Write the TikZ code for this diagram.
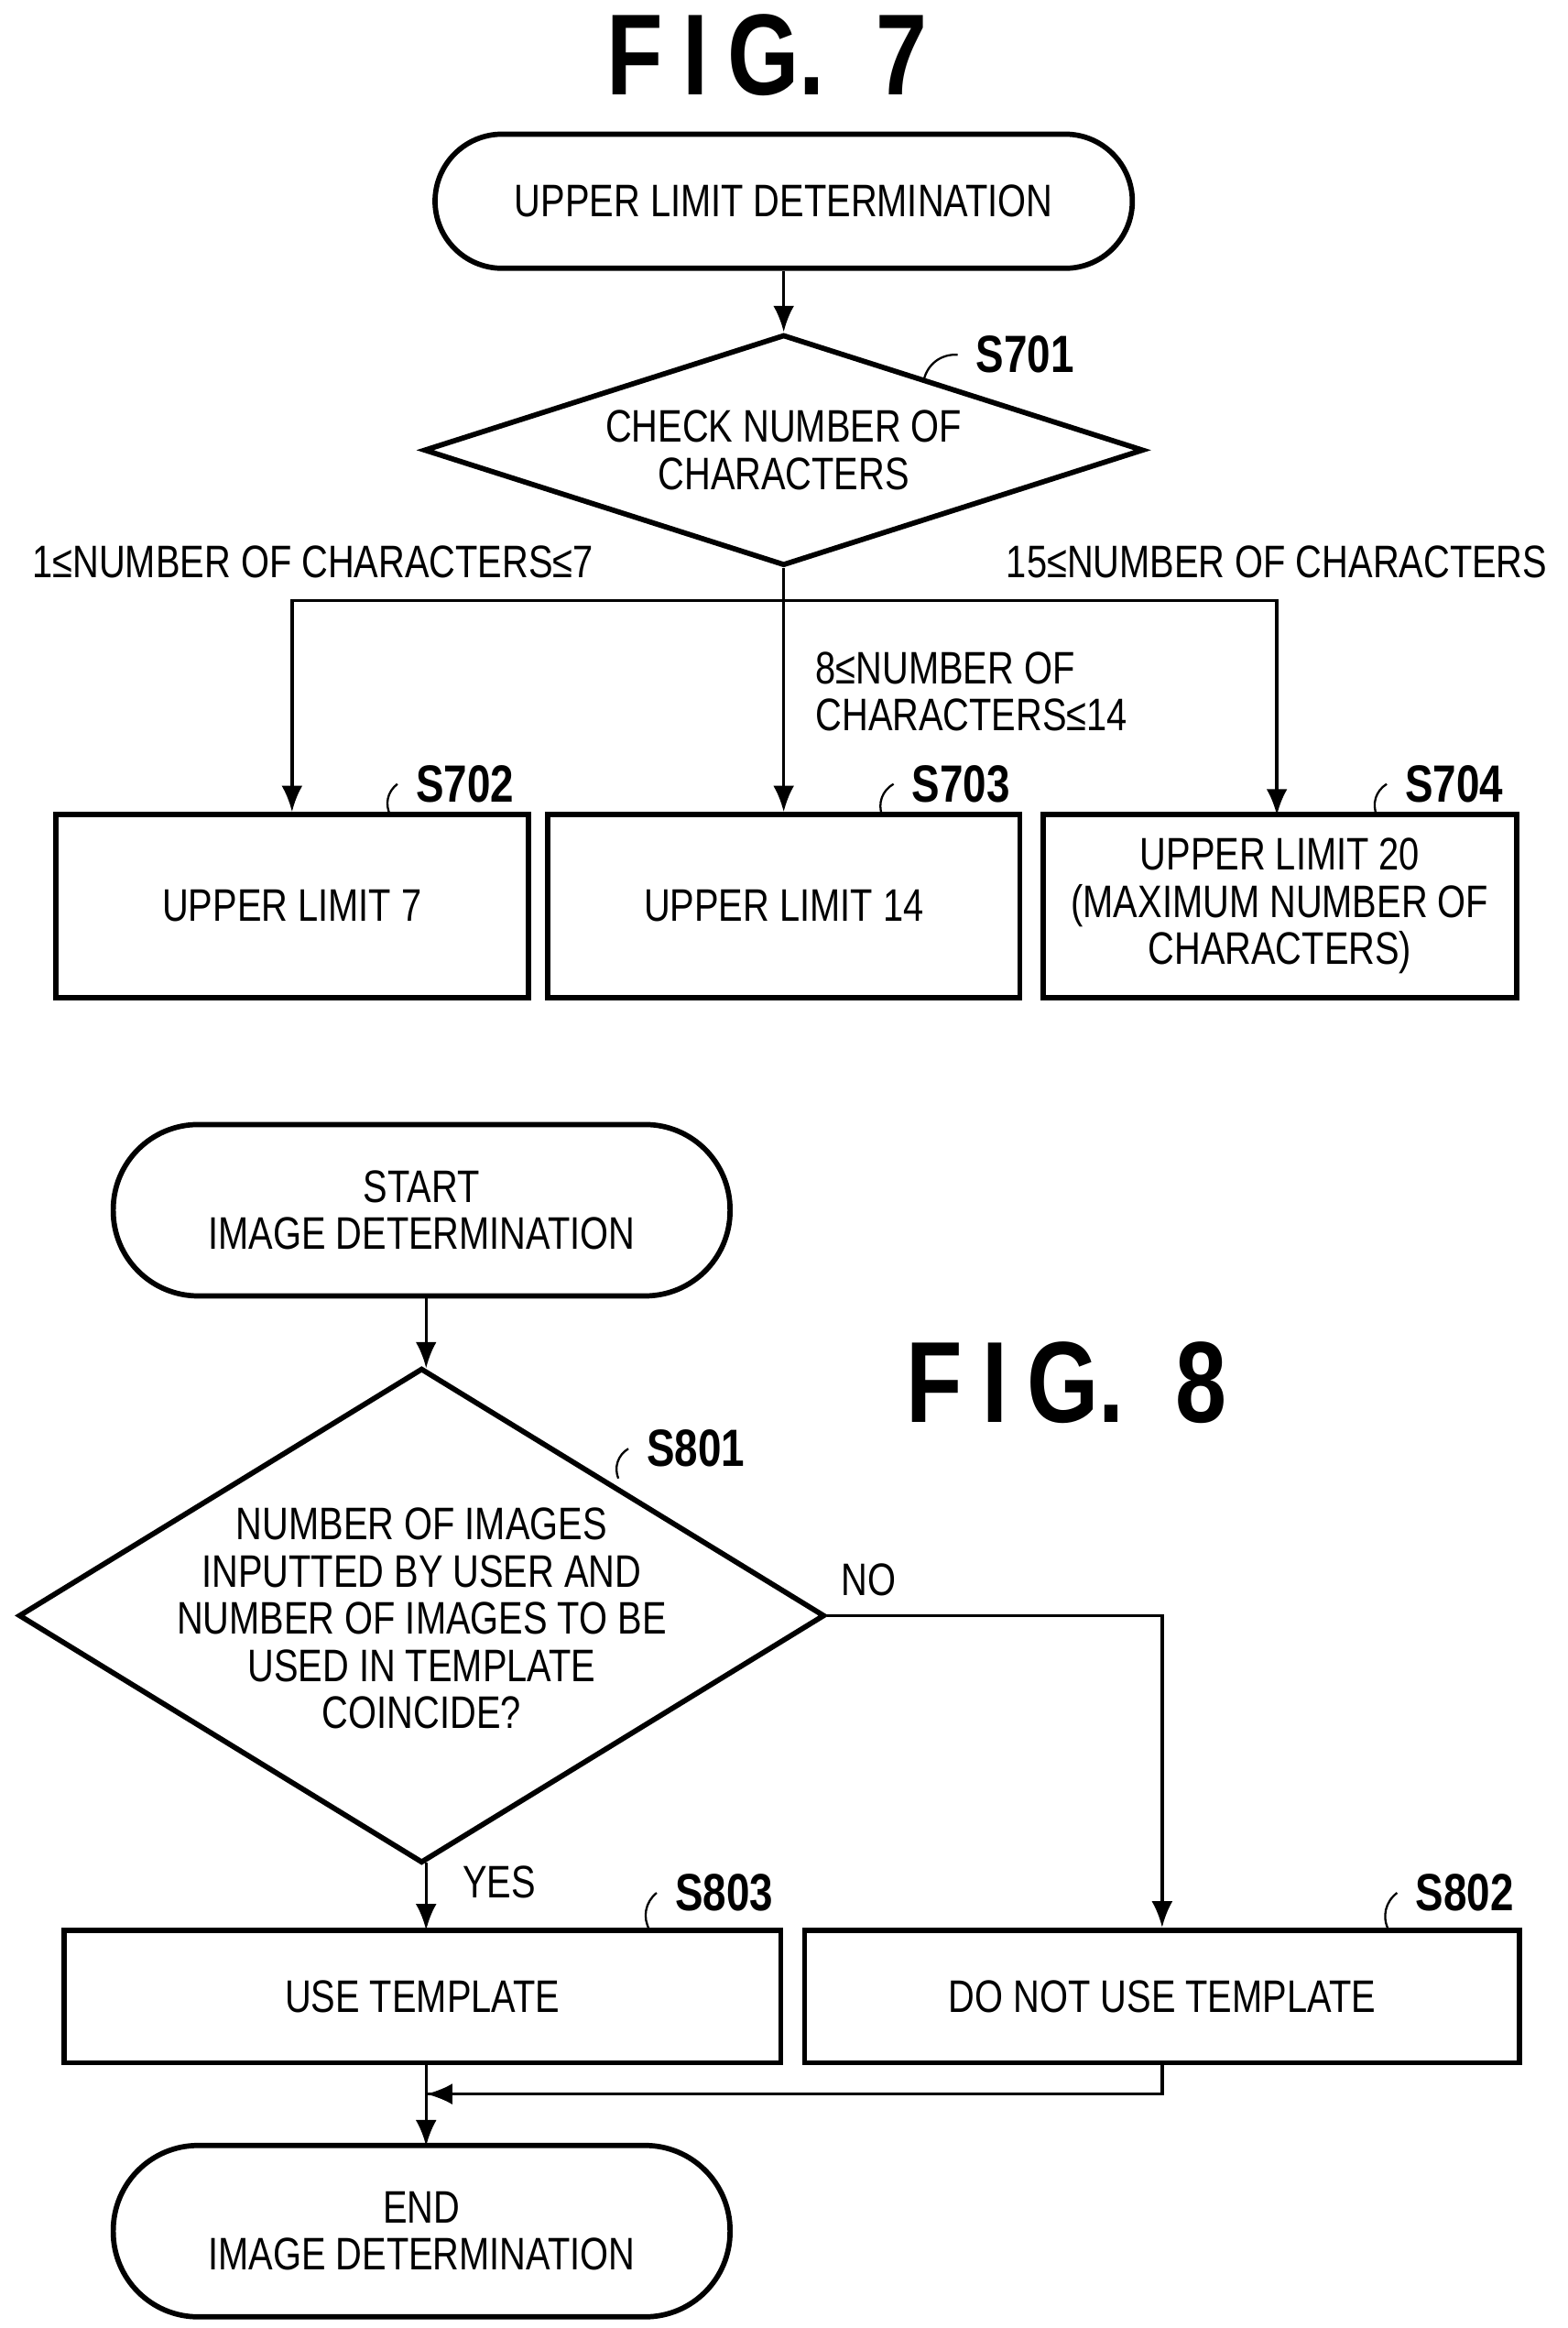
\documentclass[tikz,border=0pt]{standalone}
\usepackage{fontspec}
\setmainfont{Liberation Sans}[FakeStretch=0.8]
\usetikzlibrary{arrows.meta,positioning,shapes.geometric}
\newlength{\unit}\setlength{\unit}{0.01cm}
\tikzset{
  term/.style={draw,rounded corners=45\unit,minimum width=468\unit,minimum height=90\unit,align=center,line width=1pt},
  proc/.style={draw,minimum height=123\unit,align=center,line width=1pt},
  steplabel/.style={font=\bfseries\fontsize{10}{12}\selectfont},
  flow/.style={-{Latex[length=5pt,width=4pt]},line width=0.6pt},
  txt/.style={font=\fontsize{8.7}{9}\selectfont}
}
\begin{document}
\begin{tikzpicture}[x=0.01cm,y=-0.01cm,txt]
\useasboundingbox (0,0) rectangle (1052,1562);
% figure 7
\node[font=\bfseries\fontsize{22}{24}\selectfont] (fig7) at (515,37) {F\,I\,G.\ \ 7};
\node[term] (upper) at (526,135) {UPPER LIMIT DETERMINATION};
\node[draw,line width=1pt,minimum width=483\unit,minimum height=155\unit,diamond,aspect=3.1,inner sep=0pt] (check) at (526,302) {};
\node[align=center] at (check) {CHECK NUMBER OF\\CHARACTERS};
\draw[flow] (upper) -- (check.north);
\node[proc,minimum width=317\unit] (lim7) at (196,608) {UPPER LIMIT 7};
\node[proc,minimum width=317\unit] (lim14) at (526,608) {UPPER LIMIT 14};
\node[proc,minimum width=318\unit,inner sep=1pt] (lim20) at (859,608) {UPPER LIMIT 20\\(MAXIMUM NUMBER OF\\CHARACTERS)};
\coordinate (split) at (526,403);
\draw[line width=0.6pt] (check.south) -- (split);
\draw[flow] (split) -- (lim14.north);
\draw[flow] (split) -| (lim7.north);
\draw[flow] (split) -| (857,547);
\node (c1) at (210,377) {1≤NUMBER OF CHARACTERS≤7};
\node (c3) at (857,377) {15≤NUMBER OF CHARACTERS};
\node[align=left,anchor=west] (c2) at (535,464) {8≤NUMBER OF\\CHARACTERS≤14};
% step labels
\node[steplabel] (s701) at (688,238) {S701};
\node[steplabel] (s702) at (312,526) {S702};
\node[steplabel] (s703) at (645,526) {S703};
\node[steplabel] (s704) at (976,526) {S704};
\draw (620,255) to[bend left=40] (s701.west);
\draw (262,547) to[bend left=40] (s702.west);
\draw (592,547) to[bend left=40] (s703.west);
\draw (924,547) to[bend left=40] (s704.west);
% figure 8
\node[font=\bfseries\fontsize{22}{24}\selectfont] (fig8) at (716,928) {F\,I\,G.\ \ 8};
\node[term,minimum width=414\unit,minimum height=115\unit,rounded corners=57\unit] (start) at (283,812) {START\\IMAGE DETERMINATION};
\node[draw,line width=1pt,diamond,aspect=1.63,minimum width=541\unit,minimum height=332\unit,inner sep=0pt] (same) at (283,1084) {};
\node[align=center] at (283,1086) {NUMBER OF IMAGES\\INPUTTED BY USER AND\\NUMBER OF IMAGES TO BE\\USED IN TEMPLATE\\COINCIDE?};
\draw[flow] (286,870) -- (286,918);
\node[proc,minimum width=481\unit,minimum height=89\unit] (use) at (283.5,1339.5) {USE TEMPLATE};
\node[proc,minimum width=480\unit,minimum height=89\unit] (nouse) at (780,1339.5) {DO NOT USE TEMPLATE};
\node[term,minimum width=414\unit,minimum height=115\unit,rounded corners=57\unit] (end) at (283,1497) {END\\IMAGE DETERMINATION};
\draw[flow] (286,1250) -- (286,1295);
\draw[flow] (same.east) -| (nouse.north);
\node (yes) at (335,1263) {YES};
\node (no) at (583,1060) {NO};
\coordinate (join) at (286,1405);
\draw[line width=0.6pt] (nouse.south) |- (join);
\draw[flow] (780,1405) -- (join);
\draw[flow] (286,1384) -- (286,1440);
\node[steplabel] (s801) at (467,972) {S801};
\node[steplabel] (s803) at (486,1270) {S803};
\node[steplabel] (s802) at (983,1270) {S802};
\draw (415,992) to[bend left=40] (s801.west);
\draw (436,1295) to[bend left=40] (s803.west);
\draw (932,1295) to[bend left=40] (s802.west);
\end{tikzpicture}
\end{document}
